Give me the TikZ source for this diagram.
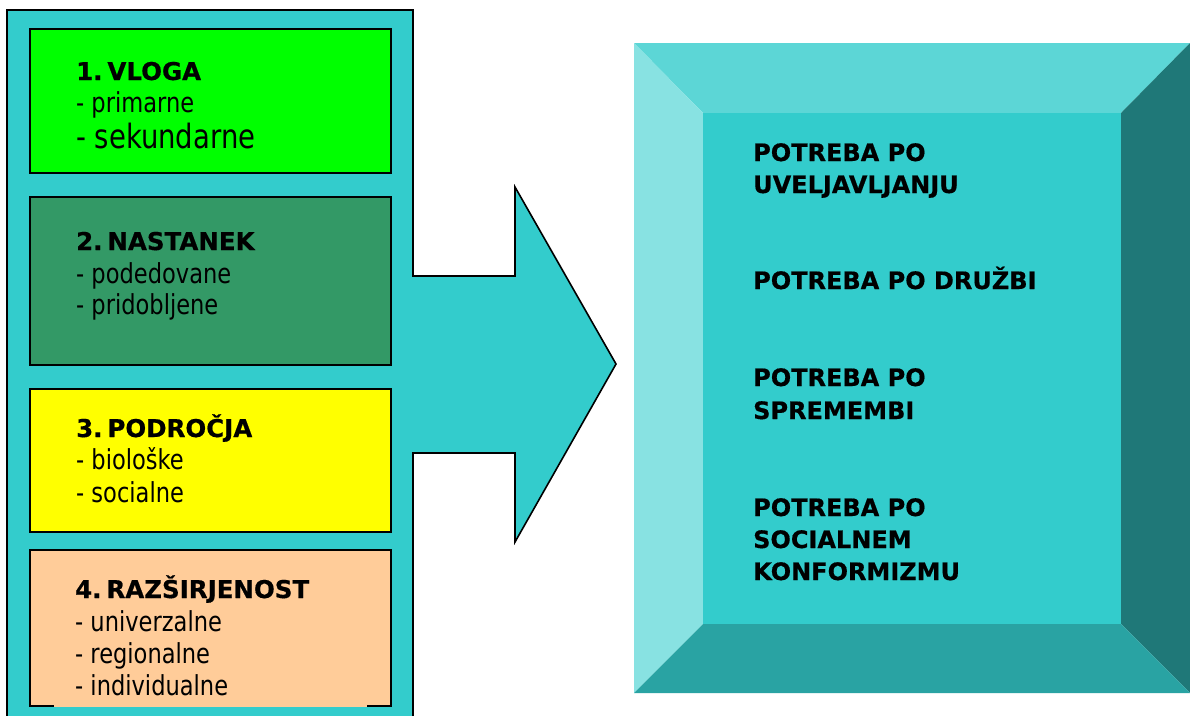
\documentclass[tikz,border=0pt]{standalone}
\usepackage{fontspec}
\usepackage{graphicx}
\setmainfont{DejaVu Sans}[BoldFeatures={FakeBold=0.5}]

\definecolor{panelcyan}{HTML}{33CCCC}
\definecolor{boxgreen}{HTML}{00FF00}
\definecolor{boxdark}{HTML}{339966}
\definecolor{boxyellow}{HTML}{FFFF00}
\definecolor{boxpeach}{HTML}{FFCC99}
\definecolor{bevtop}{HTML}{5CD6D6}
\definecolor{bevleft}{HTML}{88E2E2}
\definecolor{bevright}{HTML}{1F7878}
\definecolor{bevbottom}{HTML}{29A3A3}
\definecolor{bevface}{HTML}{33CCCC}

% narrow the regular face to the proportions of the original lettering
\newcommand\slim[1]{\scalebox{0.82}[1]{#1}}
% tighter gap after the item number
\newcommand\numgap{\hspace{0.2em}}

\tikzset{
  outline/.style={draw=black, line width=1.6pt, line join=miter},
  headtext/.style={anchor=base west, inner sep=0pt, font=\bfseries\fontsize{24.5}{29}\selectfont},
  itemtext/.style={anchor=base west, inner sep=0pt, font=\fontsize{27.5}{32}\selectfont},
  bigitem/.style={anchor=base west, inner sep=0pt, font=\fontsize{33.5}{38}\selectfont},
  needtext/.style={anchor=base west, inner sep=0pt, font=\bfseries\fontsize{24}{28}\selectfont},
}

\begin{document}
\begin{tikzpicture}[x=1pt, y=-1pt]
\useasboundingbox (0,0) rectangle (1190,715);
\clip (0,0) rectangle (1190,715);

% left panel merged with the block arrow
\filldraw[outline, fill=panelcyan]
  (7,10) -- (413,10) -- (413,276) -- (515,276) -- (515,187) -- (616,364)
  -- (515,542) -- (515,453) -- (413,453) -- (413,740) -- (7,740) -- cycle;

% category boxes
\filldraw[outline, fill=boxgreen]  (30,29)  rectangle (391,173);
\filldraw[outline, fill=boxdark]   (30,197) rectangle (391,365);
\filldraw[outline, fill=boxyellow] (30,389) rectangle (391,532);
\fill[boxpeach] (30,550) rectangle (391,707);
\draw[outline] (54,706) -- (30,706) -- (30,550) -- (391,550) -- (391,706) -- (367,706);

% box texts
\node[headtext] (h1) at (76,80)  {1.\numgap VLOGA};
\node[itemtext] (a1) at (76,112) {\slim{- primarne}};
\node[bigitem]  (a2) at (76,148) {\slim{- sekundarne}};

\node[headtext] (h2) at (76,250) {2.\numgap NASTANEK};
\node[itemtext] (b1) at (76,283) {\slim{- podedovane}};
\node[itemtext] (b2) at (76,314) {\slim{- pridobljene}};

\node[headtext] (h3) at (76,437) {3.\numgap PODROČJA};
\node[itemtext] (c1) at (76,469) {\slim{- biološke}};
\node[itemtext] (c2) at (76,502) {\slim{- socialne}};

\node[headtext] (h4) at (75,598) {4.\numgap RAZŠIRJENOST};
\node[itemtext] (d1) at (75,631) {\slim{- univerzalne}};
\node[itemtext] (d2) at (75,663) {\slim{- regionalne}};
\node[itemtext] (d3) at (75,695) {\slim{- individualne}};

% bevelled frame on the right
\fill[bevtop]    (634,43)  -- (1190,43)  -- (1121,113) -- (703,113) -- cycle;
\fill[bevleft]   (634,43)  -- (703,113)  -- (703,624)  -- (634,693) -- cycle;
\fill[bevright]  (1190,43) -- (1190,693) -- (1121,624) -- (1121,113) -- cycle;
\fill[bevbottom] (634,693) -- (703,624)  -- (1121,624) -- (1190,693) -- cycle;
\fill[bevface]   (703,113) rectangle (1121,624);

% needs listed on the frame
\node[needtext] (n1a) at (753,161) {POTREBA PO};
\node[needtext] (n1b) at (753,193) {UVELJAVLJANJU};
\node[needtext] (n2)  at (753,289) {POTREBA PO DRUŽBI};
\node[needtext] (n3a) at (753,386) {POTREBA PO};
\node[needtext] (n3b) at (753,419) {SPREMEMBI};
\node[needtext] (n4a) at (753,516) {POTREBA PO};
\node[needtext] (n4b) at (753,548) {SOCIALNEM};
\node[needtext] (n4c) at (753,580) {KONFORMIZMU};
\end{tikzpicture}
\end{document}
